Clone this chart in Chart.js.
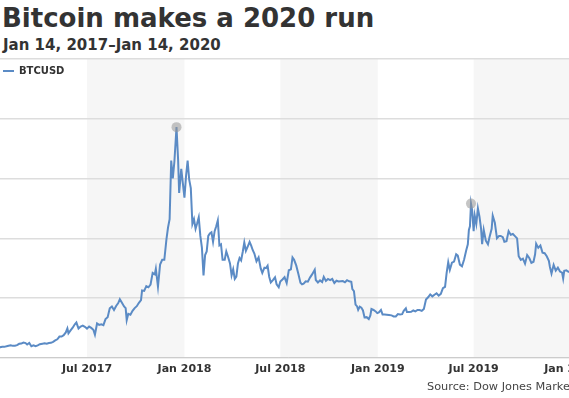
<!DOCTYPE html>
<html>
<head>
<meta charset="utf-8">
<script src="https://cdn.jsdelivr.net/npm/chart.js@4/dist/chart.umd.min.js"></script>
<style>
  html, body { margin: 0; padding: 0; background: #fff; overflow: hidden; }
  body { width: 569px; height: 398px; position: relative; font-family: "DejaVu Sans", sans-serif; color: #333; }
  #title { position: absolute; left: 2px; top: 3px; font-size: 26px; font-weight: 700; line-height: normal; white-space: nowrap; }
  #subtitle { position: absolute; left: 3px; top: 36px; font-size: 15px; font-weight: 700; line-height: normal; white-space: nowrap; }
  #source { position: absolute; left: 427px; top: 380px; font-size: 11.3px; color: #444; line-height: normal; white-space: nowrap; }
  #chart { position: absolute; left: -2px; top: 0; }
</style>
</head>
<body>
<div id="title">Bitcoin makes a 2020 run</div>
<div id="subtitle">Jan 14, 2017–Jan 14, 2020</div>
<canvas id="chart" width="640" height="398"></canvas>
<div id="source">Source: Dow Jones Market Data</div>
<script>
var seriesName = 'BTCUSD';
var startDate = '2017-01-14';
var endDate = '2020-01-14';

// tick positions on the date axis, and their labels
var tickDates = ['2017-07-01', '2018-01-01', '2018-07-01', '2019-01-01', '2019-07-01', '2020-01-01'];
var tickLabels = ['Jul 2017', 'Jan 2018', 'Jul 2018', 'Jan 2019', 'Jul 2019', 'Jan 2020'];

// shaded half-years
var bandStarts = ['2017-07-01', '2018-07-01', '2019-07-01'];
var bandEnds = ['2018-01-01', '2019-01-01', '2020-01-01'];

// points circled on the line
var markedDates = ['2017-12-17', '2019-06-26'];

// price in USD
var dates = [
  '2017-01-14','2017-01-18','2017-01-22','2017-01-26','2017-01-30','2017-02-03','2017-02-07','2017-02-11',
  '2017-02-15','2017-02-19','2017-02-23','2017-02-27','2017-03-03','2017-03-07','2017-03-10','2017-03-14',
  '2017-03-18','2017-03-22','2017-03-26','2017-03-30','2017-04-03','2017-04-08','2017-04-12','2017-04-16',
  '2017-04-20','2017-04-24','2017-04-28','2017-05-02','2017-05-06','2017-05-10','2017-05-14','2017-05-18',
  '2017-05-22','2017-05-25','2017-05-27','2017-05-31','2017-06-04','2017-06-08','2017-06-11','2017-06-15',
  '2017-06-19','2017-06-23','2017-06-27','2017-07-01','2017-07-05','2017-07-09','2017-07-13','2017-07-16',
  '2017-07-20','2017-07-24','2017-07-28','2017-08-01','2017-08-05','2017-08-09','2017-08-13','2017-08-17',
  '2017-08-21','2017-08-25','2017-08-29','2017-09-01','2017-09-05','2017-09-09','2017-09-12','2017-09-14',
  '2017-09-17','2017-09-21','2017-09-25','2017-09-29','2017-10-03','2017-10-07','2017-10-11','2017-10-13',
  '2017-10-17','2017-10-21','2017-10-25','2017-10-29','2017-11-02','2017-11-06','2017-11-08','2017-11-12',
  '2017-11-16','2017-11-20','2017-11-24','2017-11-28','2017-12-01','2017-12-04','2017-12-07','2017-12-10',
  '2017-12-13','2017-12-17','2017-12-20','2017-12-22','2017-12-26','2017-12-29',
  '2018-01-01','2018-01-04','2018-01-07','2018-01-10','2018-01-13','2018-01-16','2018-01-19','2018-01-22',
  '2018-01-25','2018-01-28','2018-01-31','2018-02-03','2018-02-06','2018-02-09','2018-02-12','2018-02-15',
  '2018-02-18','2018-02-21','2018-02-24','2018-02-27','2018-03-02','2018-03-05','2018-03-08','2018-03-11',
  '2018-03-14','2018-03-18','2018-03-21','2018-03-24','2018-03-28','2018-03-31','2018-04-03','2018-04-06',
  '2018-04-09','2018-04-12','2018-04-15','2018-04-18','2018-04-21','2018-04-24','2018-04-27','2018-04-30',
  '2018-05-04','2018-05-07','2018-05-10','2018-05-13','2018-05-17','2018-05-21','2018-05-25','2018-05-28',
  '2018-06-01','2018-06-04','2018-06-07','2018-06-10','2018-06-13','2018-06-17','2018-06-21','2018-06-24',
  '2018-06-28','2018-07-01','2018-07-05','2018-07-09','2018-07-13','2018-07-17','2018-07-21','2018-07-24',
  '2018-07-27','2018-07-31','2018-08-04','2018-08-08','2018-08-11','2018-08-14','2018-08-18','2018-08-22',
  '2018-08-26','2018-08-30','2018-09-04','2018-09-06','2018-09-10','2018-09-14','2018-09-18','2018-09-21',
  '2018-09-25','2018-09-29','2018-10-03','2018-10-07','2018-10-11','2018-10-15','2018-10-19','2018-10-23',
  '2018-10-27','2018-10-31','2018-11-04','2018-11-08','2018-11-12','2018-11-14','2018-11-17','2018-11-20',
  '2018-11-23','2018-11-25','2018-11-28','2018-12-01','2018-12-04','2018-12-07','2018-12-11','2018-12-15',
  '2018-12-18','2018-12-20','2018-12-24','2018-12-28','2018-12-31',
  '2019-01-03','2019-01-07','2019-01-10','2019-01-14','2019-01-18','2019-01-22','2019-01-27','2019-01-31',
  '2019-02-04','2019-02-08','2019-02-12','2019-02-16','2019-02-19','2019-02-23','2019-02-25','2019-03-01',
  '2019-03-05','2019-03-09','2019-03-13','2019-03-17','2019-03-21','2019-03-25','2019-03-29','2019-04-02',
  '2019-04-06','2019-04-10','2019-04-14','2019-04-18','2019-04-22','2019-04-26','2019-04-30','2019-05-04',
  '2019-05-08','2019-05-11','2019-05-14','2019-05-17','2019-05-21','2019-05-25','2019-05-29','2019-06-01',
  '2019-06-05','2019-06-09','2019-06-13','2019-06-17','2019-06-20','2019-06-22','2019-06-24','2019-06-26',
  '2019-06-28','2019-07-01','2019-07-03','2019-07-06','2019-07-09','2019-07-12','2019-07-15','2019-07-17',
  '2019-07-20','2019-07-24','2019-07-28','2019-07-31','2019-08-04','2019-08-06','2019-08-10','2019-08-14',
  '2019-08-18','2019-08-21','2019-08-25','2019-08-28','2019-09-01','2019-09-05','2019-09-09','2019-09-13',
  '2019-09-17','2019-09-21','2019-09-24','2019-09-28','2019-10-02','2019-10-06','2019-10-10','2019-10-14',
  '2019-10-18','2019-10-22','2019-10-25','2019-10-27','2019-10-31','2019-11-04','2019-11-08','2019-11-12',
  '2019-11-16','2019-11-20','2019-11-22','2019-11-25','2019-11-29','2019-12-03','2019-12-07','2019-12-11',
  '2019-12-15','2019-12-17','2019-12-19','2019-12-23','2019-12-27','2019-12-31',
  '2020-01-03','2020-01-07','2020-01-10','2020-01-14'
];
var prices = [
  818, 880, 925, 915, 960, 1010, 1055, 1000,
  1010, 1055, 1170, 1190, 1280, 1230, 1110, 1240,
  970, 1045, 965, 1040, 1140, 1180, 1210, 1180,
  1240, 1250, 1340, 1460, 1550, 1780, 1780, 1890,
  2120, 2460, 2050, 2300, 2520, 2800, 2950, 2450,
  2620, 2700, 2590, 2440, 2610, 2500, 2350, 1930,
  2870, 2750, 2800, 2730, 3240, 3400, 4150, 4300,
  4000, 4340, 4580, 4900, 4600, 4300, 4160, 3150,
  3680, 3600, 3930, 4160, 4320, 4600, 4820, 5640,
  5600, 6000, 5900, 6130, 7100, 6980, 7450, 5950,
  7800, 8200, 8200, 9900, 10900, 11600, 16500, 15000,
  16400, 19300, 16600, 13800, 15800, 14600,
  13400, 15200, 16500, 14900, 14200, 11200, 11600, 10800,
  11250, 11750, 10200, 9200, 6900, 8600, 8900, 10200,
  10400, 10500, 9700, 10600, 11000, 11500, 9400, 9500,
  8200, 8200, 8900, 8500, 7900, 6900, 7400, 6600,
  6800, 7900, 8350, 8150, 8850, 9650, 8940, 9250,
  9700, 9380, 9000, 8720, 8070, 8400, 7480, 7100,
  7540, 7500, 7700, 6780, 6300, 6500, 6730, 6150,
  5900, 6390, 6550, 6740, 6250, 7320, 7400, 8400,
  8200, 7730, 7040, 6280, 6150, 6200, 6400, 6370,
  6710, 6980, 7370, 6510, 6300, 6480, 6340, 6770,
  6430, 6600, 6500, 6600, 6260, 6450, 6380, 6410,
  6420, 6320, 6490, 6400, 6360, 5740, 5580, 4450,
  4300, 4010, 4280, 4200, 3960, 3380, 3400, 3240,
  3550, 4080, 4000, 3880, 3740,
  3800, 4000, 3630, 3620, 3600, 3580, 3550, 3460,
  3460, 3660, 3630, 3650, 3930, 4140, 3830, 3830,
  3850, 3960, 3880, 4000, 4000, 3930, 4090, 4880,
  5060, 5300, 5140, 5280, 5400, 5200, 5350, 5820,
  5940, 7100, 7990, 7350, 7960, 8050, 8660, 8550,
  7800, 7650, 8230, 9000, 9500, 10700, 11000, 12900,
  12400, 10600, 11900, 11200, 12500, 11800, 10800, 9500,
  10700, 9800, 9500, 10100, 10800, 11900, 11300, 10000,
  10200, 10200, 10100, 9700, 9750, 10600, 10300, 10360,
  10180, 9990, 8500, 8200, 8300, 7880, 8600, 8350,
  7950, 8040, 8660, 9550, 9200, 9400, 8800, 8750,
  8500, 8120, 7600, 7050, 7780, 7300, 7550, 7220,
  7120, 6640, 7280, 7320, 7200, 7190,
  7340, 8160, 8000, 8830
];

var yMax = 25000;
var yStep = 5000;

var lineColor = '#5b8bc5';

function dayOf(s) {
  return (Date.parse(s) - Date.parse(startDate)) / 86400000;
}

var points = dates.map(function(d, i) {
  return { x: dayOf(d), y: prices[i] };
});
var markedDays = markedDates.map(dayOf);

var bandPlugin = {
  id: 'bands',
  beforeDraw: function(chart) {
    var ctx = chart.ctx;
    var area = chart.chartArea;
    var xs = chart.scales.x;
    ctx.save();
    ctx.fillStyle = '#f6f6f6';
    for (var i = 0; i < bandStarts.length; i++) {
      var x0 = xs.getPixelForValue(dayOf(bandStarts[i]));
      var x1 = xs.getPixelForValue(dayOf(bandEnds[i]));
      ctx.fillRect(x0, area.top, x1 - x0, area.bottom - area.top);
    }
    ctx.restore();
  }
};

// the 'chartArea' legend gets placed at the canvas top, move it into the plot
var legendInPlot = {
  id: 'legendInPlot',
  afterLayout: function(chart) {
    var lg = chart.legend;
    var area = chart.chartArea;
    var dy = area.top + 2 - lg.top;
    var dx = area.left - lg.left;
    lg.top += dy; lg.bottom += dy;
    lg.left += dx; lg.right += dx;
  }
};

var ctx = document.getElementById('chart').getContext('2d');
var chart = new Chart(ctx, {
  type: 'line',
  data: {
    datasets: [{
      label: seriesName,
      data: points,
      borderColor: lineColor,
      borderWidth: 2,
      tension: 0,
      pointRadius: function(c) {
        return c.raw && markedDays.indexOf(c.raw.x) >= 0 ? 5 : 0;
      },
      pointBackgroundColor: 'rgba(150,150,150,0.55)',
      pointBorderWidth: 0,
      pointHoverRadius: 0
    }]
  },
  options: {
    responsive: false,
    animation: false,
    events: [],
    layout: { padding: { top: 59, right: 60, bottom: 17, left: 0 } },
    scales: {
      x: {
        type: 'linear',
        min: dayOf(startDate),
        max: dayOf(endDate),
        afterBuildTicks: function(scale) {
          scale.ticks = tickDates.map(function(d) { return { value: dayOf(d) }; });
        },
        grid: { display: false, drawTicks: false },
        border: { display: true, color: '#cccccc', width: 1 },
        ticks: {
          autoSkip: false,
          maxRotation: 0,
          padding: 5,
          color: '#333',
          font: { family: 'DejaVu Sans', size: 11, weight: 'bold' },
          callback: function(value, index) { return tickLabels[index]; }
        }
      },
      y: {
        min: 0,
        max: yMax,
        ticks: { display: false, stepSize: yStep },
        grid: { color: '#dddddd', lineWidth: 1.5, drawTicks: false },
        border: { display: false }
      }
    },
    plugins: {
      legend: {
        position: 'chartArea',
        align: 'start',
        labels: {
          usePointStyle: true,
          pointStyleWidth: 11,
          boxWidth: 11,
          padding: 5,
          color: '#333',
          font: { family: 'DejaVu Sans', size: 10, weight: 'bold' },
          generateLabels: function(chart) {
            var items = Chart.defaults.plugins.legend.labels.generateLabels(chart);
            items.forEach(function(it) {
              it.pointStyle = 'line';
              it.strokeStyle = lineColor;
              it.lineWidth = 2;
            });
            return items;
          }
        }
      },
      tooltip: { enabled: false }
    }
  },
  plugins: [bandPlugin, legendInPlot]
});
</script>
</body>
</html>
